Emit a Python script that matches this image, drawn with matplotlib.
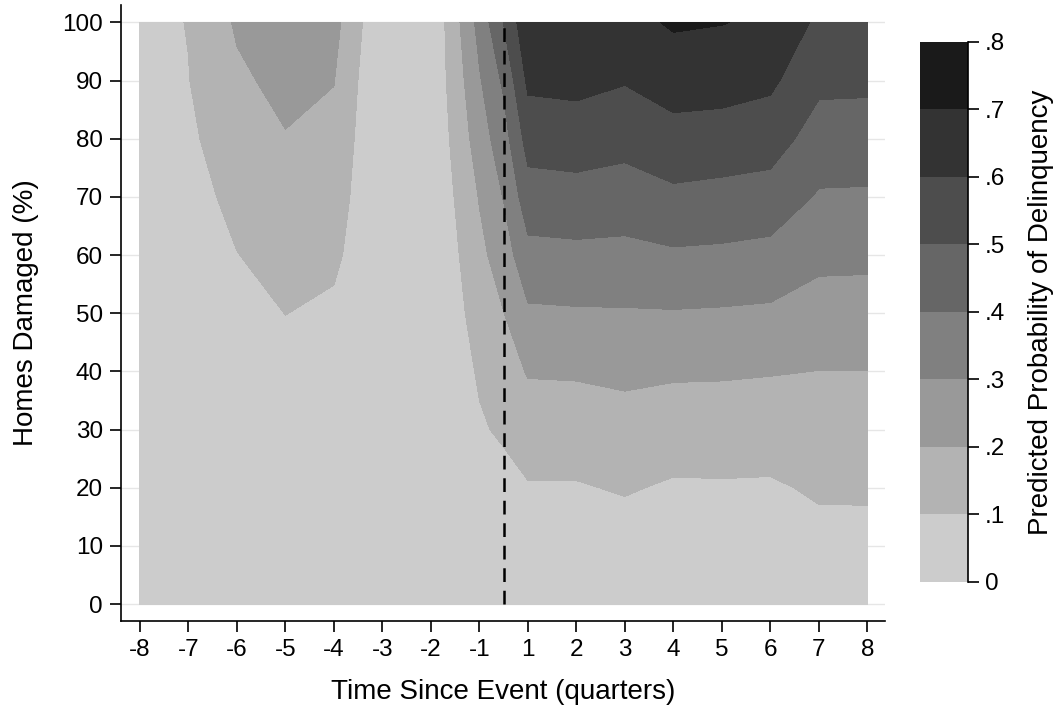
import numpy as np
import matplotlib
matplotlib.use('Agg')
import matplotlib.pyplot as plt

plt.rcParams['font.family'] = ['Liberation Sans', 'DejaVu Sans']

# x axis: 16 quarters, no quarter 0; positions along the axis
quarter_labels = ['-8', '-7', '-6', '-5', '-4', '-3', '-2', '-1',
                  '1', '2', '3', '4', '5', '6', '7', '8']
tick_pos = list(range(16))
event_pos = 7.5   # dashed line between -1 and 1

# homes damaged (%)
damage = [0, 10, 20, 30, 40, 50, 60, 70, 80, 90, 100]

# grid columns (axis positions) and predicted probability per column (bottom -> top)
grid_pos = [0, 1, 2, 3, 4, 4.5, 5, 6, 6.5, 7, 7.5, 8, 9, 10, 11, 12, 13, 14, 15]
p_cols = [
    [0.030, 0.030, 0.030, 0.035, 0.040, 0.045, 0.050, 0.055, 0.060, 0.065, 0.070],
    [0.035, 0.035, 0.040, 0.040, 0.045, 0.050, 0.055, 0.064, 0.083, 0.0975, 0.103],
    [0.030, 0.030, 0.035, 0.040, 0.050, 0.067, 0.098, 0.126, 0.155, 0.183, 0.212],
    [0.035, 0.040, 0.045, 0.055, 0.075, 0.101, 0.132, 0.163, 0.195, 0.226, 0.257],
    [0.025, 0.030, 0.035, 0.045, 0.060, 0.086, 0.115, 0.144, 0.173, 0.203, 0.232],
    [0.030, 0.035, 0.040, 0.045, 0.055, 0.065, 0.073, 0.077, 0.086, 0.099, 0.120],
    [0.020, 0.020, 0.020, 0.020, 0.020, 0.020, 0.020, 0.020, 0.020, 0.015, 0.010],
    [0.020, 0.020, 0.020, 0.020, 0.020, 0.020, 0.020, 0.020, 0.020, 0.020, 0.010],
    [0.020, 0.030, 0.040, 0.050, 0.060, 0.070, 0.085, 0.104, 0.125, 0.146, 0.167],
    [0.010, 0.030, 0.055, 0.090, 0.110, 0.142, 0.174, 0.206, 0.250, 0.290, 0.333],
    [0.020, 0.045, 0.070, 0.113, 0.155, 0.198, 0.251, 0.305, 0.358, 0.417, 0.504],
    [0.020, 0.050, 0.093, 0.149, 0.207, 0.285, 0.370, 0.457, 0.540, 0.620, 0.680],
    [0.020, 0.050, 0.093, 0.150, 0.210, 0.290, 0.376, 0.465, 0.548, 0.628, 0.690],
    [0.020, 0.055, 0.108, 0.161, 0.220, 0.292, 0.373, 0.454, 0.532, 0.606, 0.667],
    [0.020, 0.050, 0.089, 0.149, 0.212, 0.294, 0.387, 0.480, 0.566, 0.642, 0.712],
    [0.020, 0.050, 0.091, 0.149, 0.210, 0.290, 0.382, 0.471, 0.556, 0.640, 0.703],
    [0.020, 0.050, 0.089, 0.146, 0.205, 0.284, 0.371, 0.460, 0.544, 0.619, 0.684],
    [0.030, 0.070, 0.112, 0.155, 0.199, 0.260, 0.323, 0.390, 0.457, 0.521, 0.580],
    [0.030, 0.070, 0.113, 0.156, 0.199, 0.258, 0.321, 0.388, 0.454, 0.519, 0.580],
]

levels = [0, .1, .2, .3, .4, .5, .6, .7, .8]
level_labels = ['0', '.1', '.2', '.3', '.4', '.5', '.6', '.7', '.8']
shades = ['#cccccc', '#b3b3b3', '#999999', '#808080',
          '#666666', '#4d4d4d', '#333333', '#1a1a1a']

Z = np.array(p_cols).T

fig = plt.figure(figsize=(10.61, 7.08), dpi=100)
ax = fig.add_axes([0.114, 0.123, 0.720, 0.870])

# gridlines first, contour on top
for yv in damage:
    ax.axhline(yv, color='#e6e6e6', lw=1.0, zorder=0)

cs = ax.contourf(grid_pos, damage, Z, levels=levels, colors=shades, zorder=1)
ax.plot([event_pos, event_pos], [0, 100], color='black', lw=1.8,
        dashes=(5.5, 3.5), zorder=3)

ax.set_xlim(-0.39, 15.36)
ax.set_ylim(-2.9, 103.0)
ax.set_xticks(tick_pos)
ax.set_xticklabels(quarter_labels)
ax.set_yticks(damage)
for s in ['top', 'right']:
    ax.spines[s].set_visible(False)
for s in ['left', 'bottom']:
    ax.spines[s].set_linewidth(1.2)
ax.tick_params(direction='out', length=8, width=1.2, labelsize=17.5, pad=5)
ax.set_xlabel('Time Since Event (quarters)', fontsize=20, labelpad=13)
ax.set_ylabel('Homes Damaged (%)', fontsize=20, labelpad=17)

# colour bar
cax = fig.add_axes([0.867, 0.178, 0.0452, 0.763])
cbar = fig.colorbar(cs, cax=cax, ticks=levels)
cbar.outline.set_visible(False)
cbar.set_ticklabels(level_labels)
cax.tick_params(direction='out', length=8, width=1.2, labelsize=17.5, pad=4)
cax.axvline(1.0, color='black', lw=1.2, clip_on=False)
cbar.set_label('Predicted Probability of Delinquency', fontsize=20, labelpad=17)

fig.savefig('out.png', dpi=100)
